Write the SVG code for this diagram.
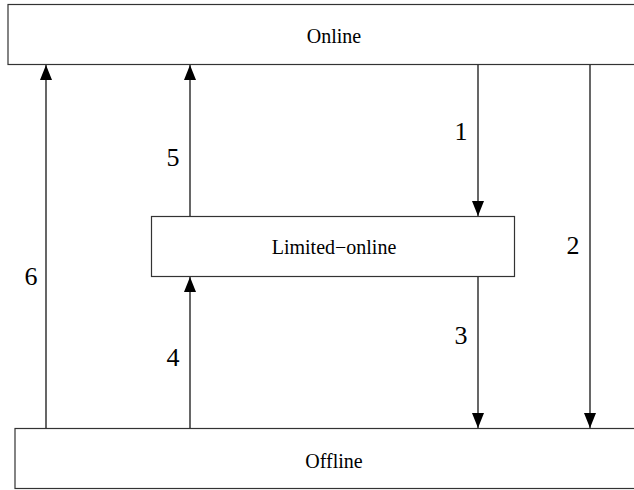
<svg xmlns="http://www.w3.org/2000/svg" width="634" height="490" viewBox="0 0 634 490">
  <style>
    .box { fill: #ffffff; stroke: #333333; stroke-width: 1.2; }
    .name { font-family: "Liberation Serif", "Times New Roman", serif; font-size: 20px; fill: #000000; text-anchor: middle; }
    .edge { stroke: #000000; stroke-width: 1.2; fill: none; marker-end: url(#head); }
    .num { font-family: "Liberation Serif", "Times New Roman", serif; font-size: 26px; fill: #000000; text-anchor: middle; }
  </style>
  <defs>
    <!-- filled triangle head, pointing along the line direction -->
    <marker id="head" markerUnits="userSpaceOnUse" markerWidth="15" markerHeight="12" refX="15" refY="6" orient="auto" viewBox="0 0 15 12">
      <path d="M0,0 L15,6 L0,12 Z" fill="#000000"/>
    </marker>
  </defs>
  <rect width="634" height="490" fill="#ffffff"/>

  <g id="online">
    <rect class="box" x="8" y="4.5" width="650" height="60"/>
    <text class="name" x="334" y="42.5">Online</text>
  </g>
  <g id="limited-online">
    <rect class="box" x="151.5" y="216.5" width="363" height="60"/>
    <text class="name" x="334" y="253.5">Limited−online</text>
  </g>
  <g id="offline">
    <rect class="box" x="15" y="428.5" width="650" height="60"/>
    <text class="name" x="334" y="467.5">Offline</text>
  </g>

  <g id="connectors">
    <!-- Online to Limited-online -->
    <line class="edge" x1="478" y1="65" x2="478" y2="216"/>
    <!-- Online to Offline -->
    <line class="edge" x1="590" y1="65" x2="590" y2="428"/>
    <!-- Limited-online to Offline -->
    <line class="edge" x1="478" y1="277" x2="478" y2="428"/>
    <!-- Offline to Limited-online -->
    <line class="edge" x1="190" y1="428" x2="190" y2="277"/>
    <!-- Limited-online to Online -->
    <line class="edge" x1="190" y1="216" x2="190" y2="65"/>
    <!-- Offline to Online -->
    <line class="edge" x1="46" y1="428" x2="46" y2="65"/>
  </g>

  <g id="labels">
    <text class="num" x="461" y="140">1</text>
    <text class="num" x="573" y="254">2</text>
    <text class="num" x="461" y="344">3</text>
    <text class="num" x="173" y="366">4</text>
    <text class="num" x="173" y="166">5</text>
    <text class="num" x="31" y="285">6</text>
  </g>
</svg>
